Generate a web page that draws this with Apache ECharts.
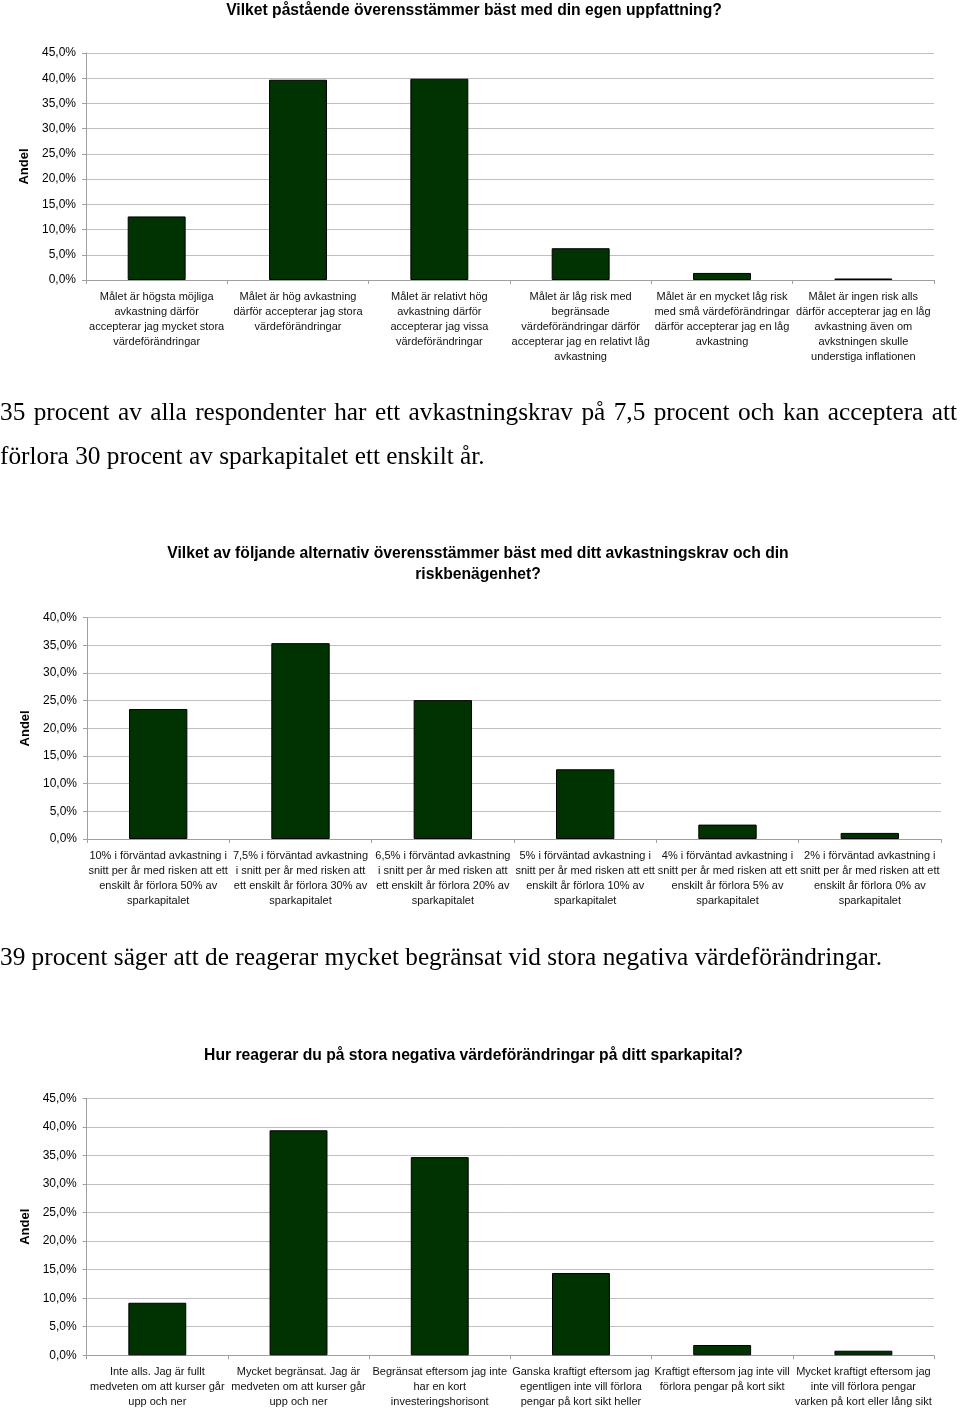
<!DOCTYPE html>
<html>
<head>
<meta charset="utf-8">
<script src="https://cdn.jsdelivr.net/npm/echarts@6/dist/echarts.min.js"></script>
<style>
  html, body { margin: 0; padding: 0; background: #fff; }
  #wrap { position: relative; width: 960px; height: 1410px; }
  #chart { position: absolute; left: 0; top: 0; width: 960px; height: 1410px; }
  .para { position: absolute; left: 0; width: 957px; font-family: "Liberation Serif", "Times New Roman", serif;
          font-size: 25.3px; line-height: 44px; color: #000; text-align: justify; margin: 0; }
</style>
</head>
<body>
<div id="wrap">
  <div id="chart"></div>
  <p class="para" id="p1" style="top:389px;">35 procent av alla respondenter har ett avkastningskrav på 7,5 procent och kan acceptera att förlora 30 procent av sparkapitalet ett enskilt år.</p>
  <p class="para" id="p2" style="top:934px;text-align:left;">39 procent säger att de reagerar mycket begränsat vid stora negativa värdeförändringar.</p>
</div>
<script>
// ---- Data ----
const title1 = "Vilket påstående överensstämmer bäst med din egen uppfattning?";
const categories1 = [
  "Målet är högsta möjliga\navkastning därför\naccepterar jag mycket stora\nvärdeförändringar",
  "Målet är hög avkastning\ndärför accepterar jag stora\nvärdeförändringar",
  "Målet är relativt hög\navkastning därför\naccepterar jag vissa\nvärdeförändringar",
  "Målet är låg risk med\nbegränsade\nvärdeförändringar därför\naccepterar jag en relativt låg\navkastning",
  "Målet är en mycket låg risk\nmed små värdeförändringar\ndärför accepterar jag en låg\navkastning",
  "Målet är ingen risk alls\ndärför accepterar jag en låg\navkastning även om\navkstningen skulle\nunderstiga inflationen"
];
const values1 = [12.6, 39.7, 39.9, 6.3, 1.4, 0.3];

const title2 = "Vilket av följande alternativ överensstämmer bäst med ditt avkastningskrav och din\nriskbenägenhet?";
const categories2 = [
  "10% i förväntad avkastning i\nsnitt per år med risken att ett\nenskilt år förlora 50% av\nsparkapitalet",
  "7,5% i förväntad avkastning\ni snitt per år med risken att\nett enskilt år förlora 30% av\nsparkapitalet",
  "6,5% i förväntad avkastning\ni snitt per år med risken att\nett enskilt år förlora 20% av\nsparkapitalet",
  "5% i förväntad avkastning i\nsnitt per år med risken att ett\nenskilt år förlora 10% av\nsparkapitalet",
  "4% i förväntad avkastning i\nsnitt per år med risken att ett\nenskilt år förlora 5% av\nsparkapitalet",
  "2% i förväntad avkastning i\nsnitt per år med risken att ett\nenskilt år förlora 0% av\nsparkapitalet"
];
const values2 = [23.5, 35.4, 25.1, 12.6, 2.6, 1.1];

const title3 = "Hur reagerar du på stora negativa värdeförändringar på ditt sparkapital?";
const categories3 = [
  "Inte alls. Jag är fullt\nmedveten om att kurser går\nupp och ner",
  "Mycket begränsat. Jag är\nmedveten om att kurser går\nupp och ner",
  "Begränsat eftersom jag inte\nhar en kort\ninvesteringshorisont",
  "Ganska kraftigt eftersom jag\negentligen inte vill förlora\npengar på kort sikt heller",
  "Kraftigt eftersom jag inte vill\nförlora pengar på kort sikt",
  "Mycket kraftigt eftersom jag\ninte vill förlora pengar\nvarken på kort eller lång sikt"
];
const values3 = [9.2, 39.4, 34.7, 14.4, 1.8, 0.8];

const yMax = [45, 40, 45];
const yName = "Andel";

// ---- Chart ----
const FONT = '"Liberation Sans", Arial, sans-serif';
const chart = echarts.init(document.getElementById('chart'), null, { renderer: 'canvas' });

const grids = [
  { left: 86, right: 26, top: 53, height: 227 },
  { left: 87, right: 19, top: 617.7, height: 221.3 },
  { left: 86.7, right: 26, top: 1098.3, height: 257 }
];
const cats = [categories1, categories2, categories3];
const vals = [values1, values2, values3];

const xAxes = cats.map((c, i) => ({
  type: 'category', gridIndex: i, data: c,
  axisLine: { lineStyle: { color: '#a0a0a0', width: 1 } },
  axisTick: { show: true, length: 4, lineStyle: { color: '#a0a0a0' } },
  axisLabel: { interval: 0, fontFamily: FONT, fontSize: 11, color: '#111', lineHeight: 15, margin: 9 }
}));
const yAxes = yMax.map((m, i) => ({
  type: 'value', gridIndex: i, min: 0, max: m, interval: 5,
  name: yName, nameLocation: 'middle', nameGap: 52,
  nameTextStyle: { fontFamily: FONT, fontSize: 13, fontWeight: 'bold', color: '#000' },
  axisLine: { show: true, lineStyle: { color: '#a0a0a0' } },
  axisTick: { show: true, length: 4, lineStyle: { color: '#a0a0a0' } },
  splitLine: { show: true, lineStyle: { color: '#c0c0c0', width: 1 } },
  axisLabel: { fontFamily: FONT, fontSize: 12, color: '#000', margin: 10,
    formatter: v => v.toFixed(1).replace('.', ',') + '%' }
}));
const series = vals.map((v, i) => ({
  type: 'bar', xAxisIndex: i, yAxisIndex: i, data: v, barWidth: '41%',
  itemStyle: { color: '#013201', borderColor: '#000', borderWidth: 1 },
  silent: true, animation: false
}));

const titleStyle = { fontFamily: FONT, fontSize: 15.7, fontWeight: 'bold', color: '#000', lineHeight: 21 };
chart.setOption({
  animation: false,
  title: [
    { text: title1, left: 474, top: 0, padding: 0, textAlign: 'center', textStyle: titleStyle },
    { text: title2, left: 478, top: 543, padding: 0, textAlign: 'center', textStyle: titleStyle },
    { text: title3, left: 473.5, top: 1045, padding: 0, textAlign: 'center', textStyle: titleStyle }
  ],
  grid: grids,
  xAxis: xAxes,
  yAxis: yAxes,
  series: series
});
</script>
</body>
</html>
